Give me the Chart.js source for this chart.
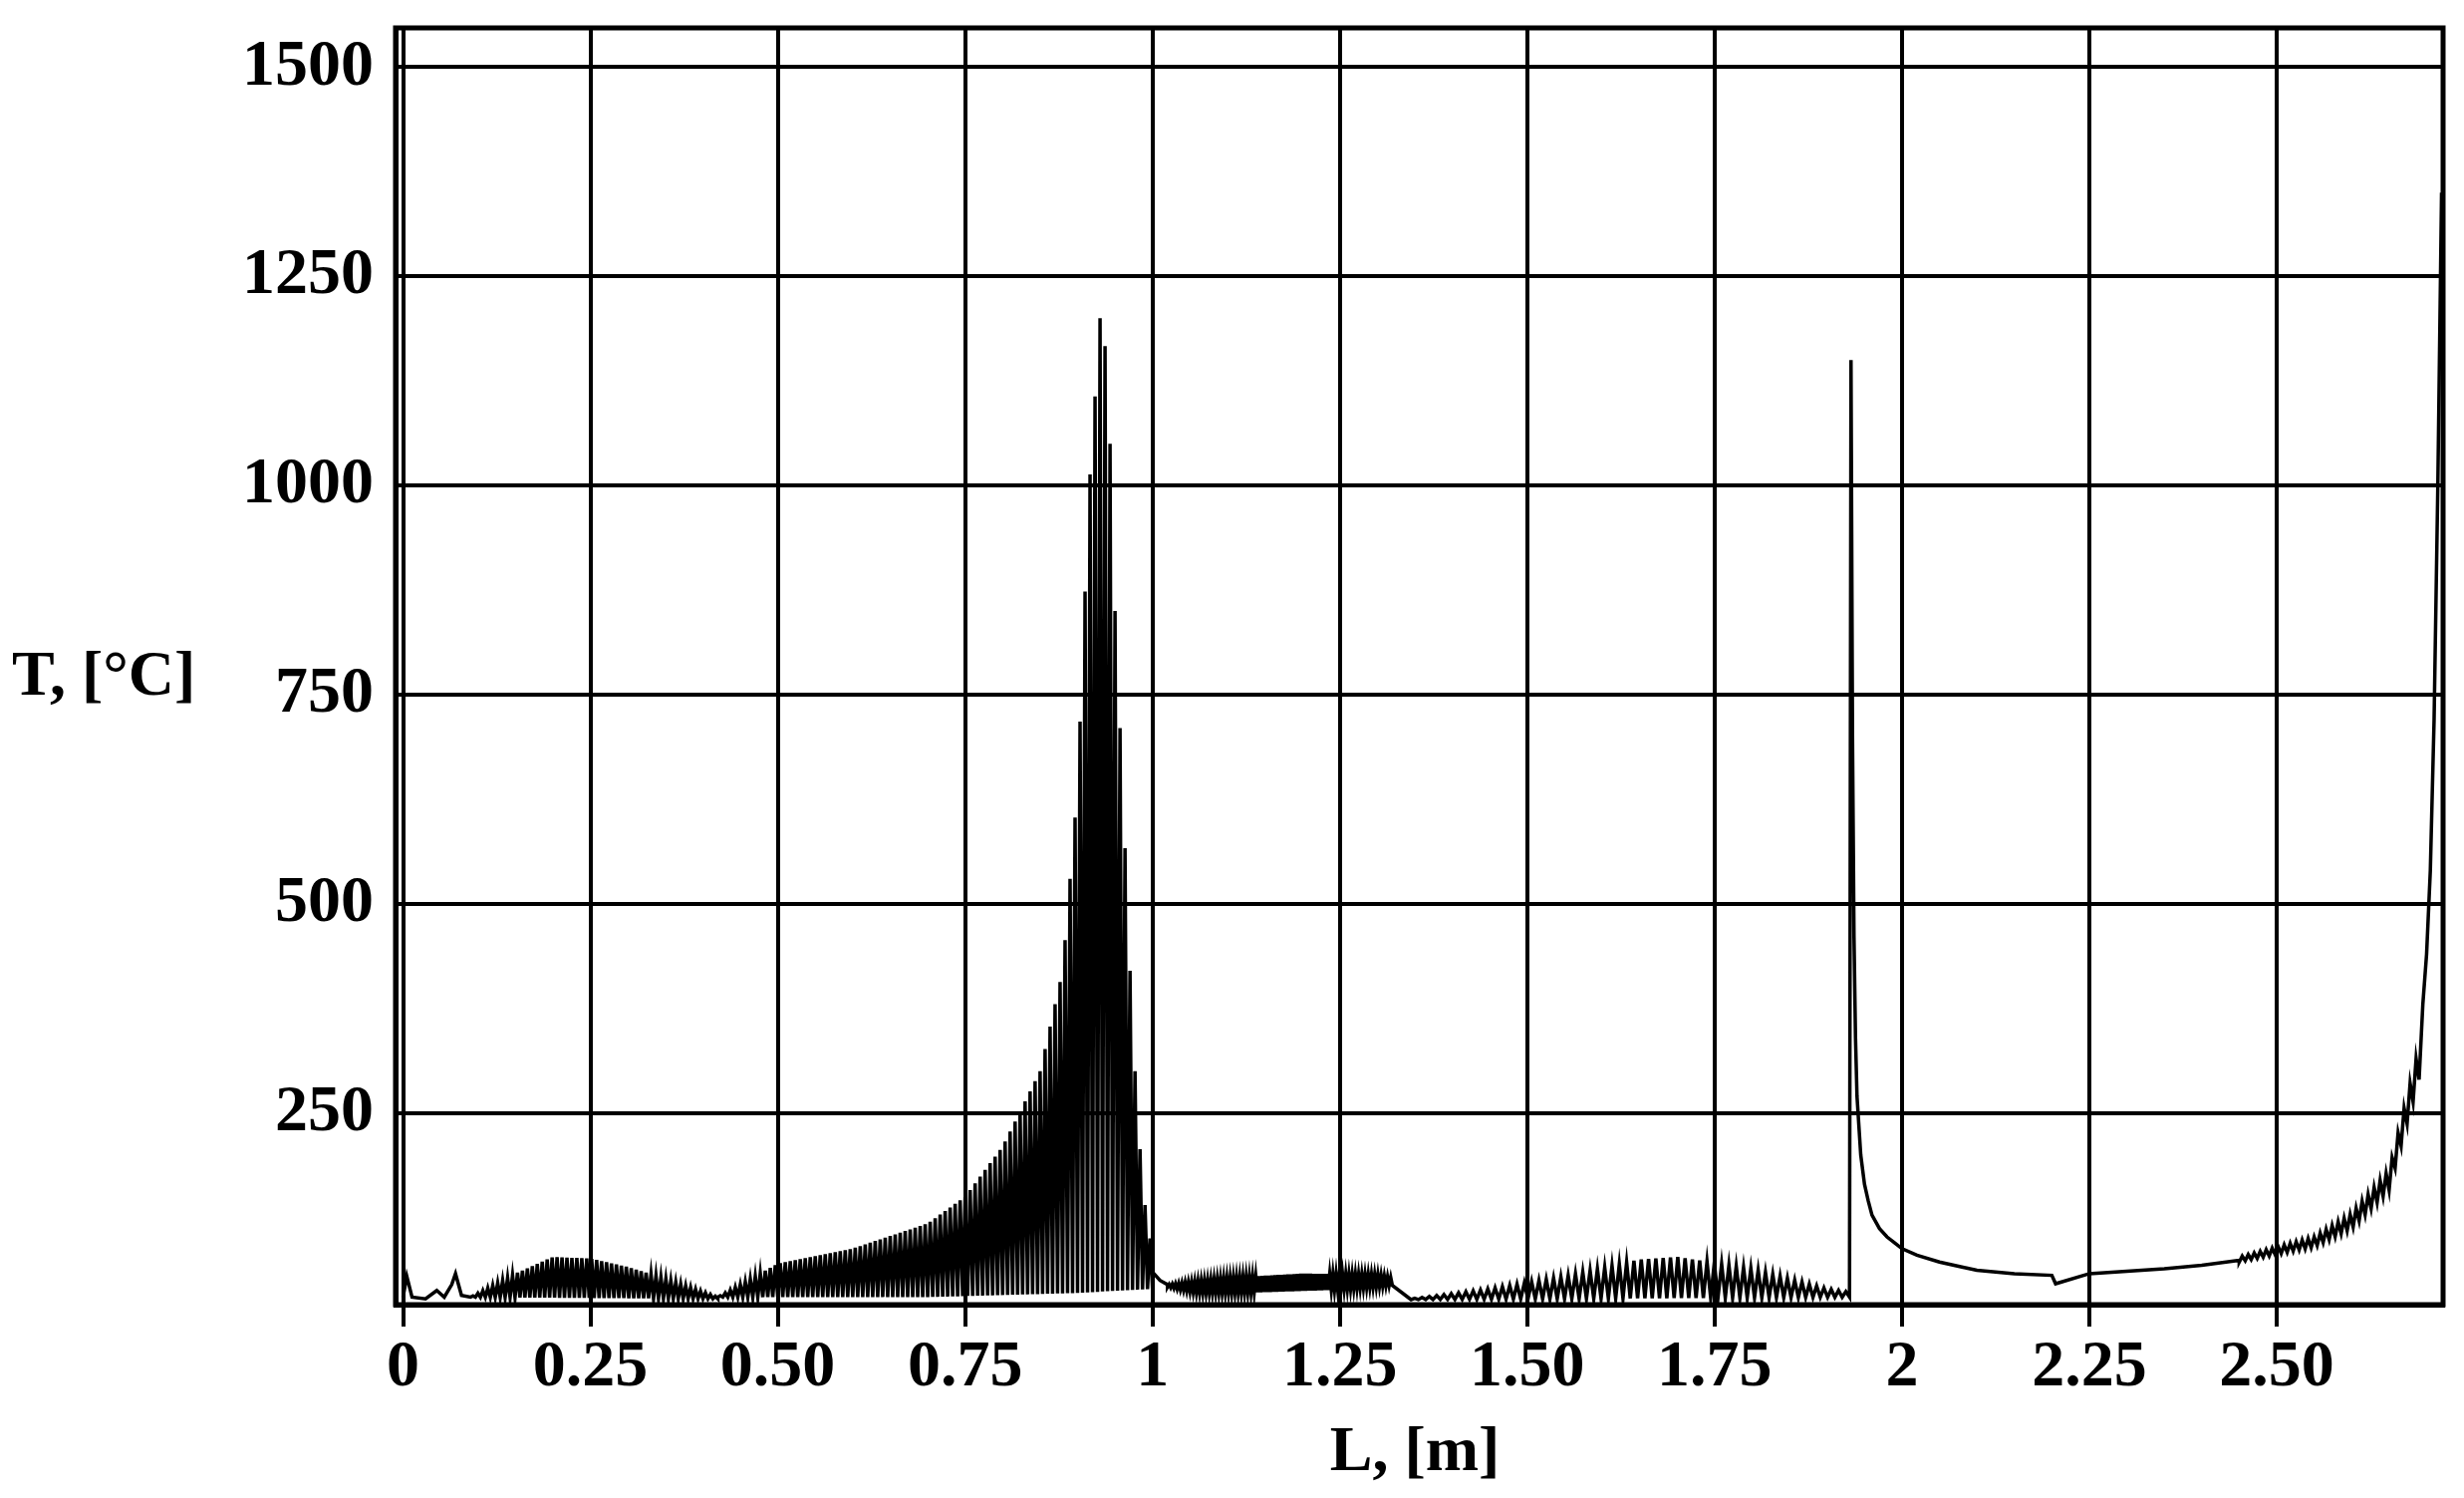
<!DOCTYPE html>
<html><head><meta charset="utf-8">
<script src="https://cdn.jsdelivr.net/npm/chart.js@4"></script>
<style>html,body{margin:0;padding:0;background:#fff}#wrap{width:2473px;height:1503px}</style>
</head><body><div id="wrap"><canvas id="c" width="2473" height="1503"></canvas></div>
<script>
// Tick values / labels
const xTickValues = [0,0.25,0.5,0.75,1,1.25,1.5,1.75,2,2.25,2.5];
const xTickLabels = ["0","0.25","0.50","0.75","1","1.25","1.50","1.75","2","2.25","2.50"];
const yTickValues = [250,500,750,1000,1250,1500];
const yTickLabels = ["250","500","750","1000","1250","1500"];
// Smooth start section [x, T]
const startCurve = [[0,30],[0.005,55],[0.012,30],[0.03,28],[0.045,38],[0.055,30],[0.065,45],[0.07,58],[0.078,32],[0.09,30]];
// Oscillating segments: x range, cycle count, upper & lower envelopes
const osc1 = {x0:0.09,x1:0.42,n:50,
  upper:[[0.09,30],[0.15,58],[0.2,78],[0.25,76],[0.3,66],[0.35,52],[0.42,30]],
  lower:[[0.09,30],[0.42,28]]};
const osc2 = {x0:0.42,x1:1.0,n:87,
  upper:[[0.42,30],[0.5,70],[0.6,88],[0.7,118],[0.75,150],[0.8,210],[0.85,300],[0.88,420],[0.9,640],[0.915,990],[0.93,1200],[0.94,1150],[0.95,850],[0.96,640],[0.97,420],[0.98,240],[0.99,140],[1.0,80]],
  lower:[[0.42,30],[0.7,30],[0.9,35],[1.0,40]]};
const tailAfterSpike = [[1.0,60],[1.01,50],[1.02,45]];
const osc3 = {x0:1.02,x1:1.32,n:70,
  upper:[[1.02,45],[1.1,53],[1.2,58],[1.3,57],[1.32,53]],
  lower:[[1.02,42],[1.06,35],[1.15,36],[1.25,39],[1.32,44]]};
const osc4 = {x0:1.345,x1:1.93,n:60,
  upper:[[1.345,28],[1.45,40],[1.55,55],[1.65,75],[1.7,78],[1.8,64],[1.9,40],[1.93,36]],
  lower:[[1.345,27],[1.93,30]]};
const midCurve = [[1.93,30],[1.932,1150],[1.934,700],[1.936,460],[1.938,340],[1.94,270],[1.945,200],[1.95,165],[1.955,145],[1.96,128],[1.97,112],[1.98,102],[1.99,95],[2.0,88],[2.02,80],[2.05,72],[2.08,66],[2.1,62],[2.15,58],[2.2,56],[2.205,46],[2.25,58],[2.3,61],[2.35,64],[2.4,68],[2.45,74]];
const osc5 = {x0:2.45,x1:2.69,n:30,
  upper:[[2.45,78],[2.55,102],[2.6,130],[2.65,182],[2.69,330]],
  lower:[[2.45,72],[2.55,90],[2.6,112],[2.65,158],[2.69,290]]};
const endCurve = [[2.695,380],[2.70,440],[2.705,540],[2.71,720],[2.715,1000],[2.72,1350]];

function interp(env,x){
  for(let i=0;i<env.length-1;i++){const a=env[i],b=env[i+1];
    if(x>=a[0]&&x<=b[0]){const t=(x-a[0])/(b[0]-a[0]);return a[1]+t*(b[1]-a[1]);}}
  return env[env.length-1][1];
}
function zig(s){const out=[];for(let i=0;i<=2*s.n;i++){const x=s.x0+i*(s.x1-s.x0)/(2*s.n);
  out.push({x:x,y:i%2?interp(s.upper,x):interp(s.lower,x)});}return out;}
const pts=[];
const add=a=>a.forEach(p=>pts.push({x:p[0],y:p[1]}));
add(startCurve);
pts.push(...zig(osc1));pts.push(...zig(osc2));
add(tailAfterSpike);
pts.push(...zig(osc3));pts.push(...zig(osc4));
add(midCurve);pts.push(...zig(osc5));add(endCurve);

const font={family:"'Liberation Serif', 'Times New Roman', serif",size:66,weight:'bold'};
const titles={id:'titles',afterDraw(c){const ctx=c.ctx;ctx.save();ctx.fillStyle='#000';
  ctx.font="bold 64px 'Liberation Serif', serif";ctx.textBaseline='middle';
  ctx.textAlign='center';ctx.fillText('L, [m]',1420,1458);
  ctx.textAlign='left';ctx.fillText('T, [°C]',12,680);ctx.restore();}};
new Chart(document.getElementById('c'),{
  type:'line',
  data:{datasets:[{data:pts,borderColor:'#000',borderWidth:3.5,pointRadius:0,tension:0,fill:false}]},
  options:{responsive:false,animation:false,devicePixelRatio:1,
    layout:{padding:{top:28,right:21,left:0,bottom:0}},
    plugins:{legend:{display:false},tooltip:{enabled:false}},
    scales:{
      x:{type:'linear',min:-0.01,max:2.722,
        afterBuildTicks:s=>{s.ticks=xTickValues.map(v=>({value:v}));},
        afterFit:s=>{s.height=194;s.paddingLeft=0;s.paddingRight=0;},
        ticks:{color:'#000',font:font,padding:2,maxRotation:0,autoSkip:false,
          callback:(v)=>{const i=xTickValues.indexOf(v);return i>=0?xTickLabels[i]:'';}},
        grid:{color:'#000',lineWidth:4,tickLength:22},border:{color:'#000',width:5}},
      y:{min:21,max:1547,
        afterBuildTicks:s=>{s.ticks=yTickValues.map(v=>({value:v}));},
        afterFit:s=>{s.width=397;s.paddingTop=0;s.paddingBottom=0;},
        ticks:{color:'#000',font:font,padding:22,
          callback:(v)=>{const i=yTickValues.indexOf(v);return i>=0?yTickLabels[i]:'';}},
        grid:{color:'#000',lineWidth:4,tickLength:0},border:{color:'#000',width:5}}
    }},
  plugins:[titles,{id:'frame',afterDraw(c){const a=c.chartArea,ctx=c.ctx;ctx.save();ctx.strokeStyle='#000';ctx.lineWidth=5;ctx.strokeRect(a.left,a.top,a.right-a.left,a.bottom-a.top);ctx.restore();}}]
});
</script></body></html>
